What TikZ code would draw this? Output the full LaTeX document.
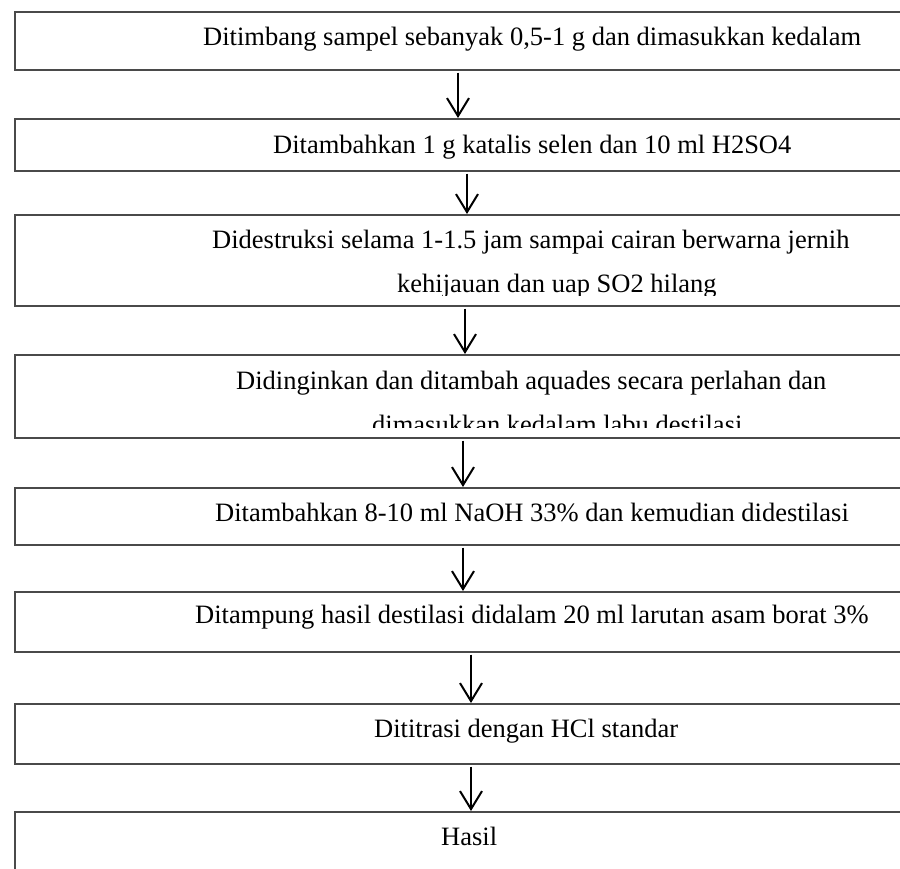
\documentclass[tikz,border=0pt]{standalone}
\usepackage{fontspec}
\setmainfont{Liberation Serif}
\usetikzlibrary{arrows.meta}
\definecolor{frame}{HTML}{4A4A4A}
\tikzset{
  stepbox/.style={draw=frame, line width=1.6pt, inner sep=0pt, anchor=north west,
                  minimum width=900pt},
  txt/.style={anchor=base west, inner sep=0pt, font=\fontsize{26.5}{32}\selectfont},
  arr/.style={draw=black, line width=2pt,
              -{Straight Barb[length=18pt, width=22pt, line width=2pt]}}
}
\begin{document}
\begin{tikzpicture}[x=1pt, y=-1pt]
\useasboundingbox (0,0) rectangle (900,868);

% process boxes (they run off the right edge)
\node[stepbox, minimum height=58pt] (b1) at (14,11) {};
\node[stepbox, minimum height=52pt] (b2) at (14,118) {};
\node[stepbox, minimum height=91pt] (b3) at (14,214) {};
\node[stepbox, minimum height=83pt] (b4) at (14,354) {};
\node[stepbox, minimum height=57pt] (b5) at (14,487) {};
\node[stepbox, minimum height=60pt] (b6) at (14,591) {};
\node[stepbox, minimum height=60pt] (b7) at (14,703) {};
\node[stepbox, minimum height=80pt] (b8) at (14,811) {};

% labels
\node[txt] (t1) at (203,45) {Ditimbang sampel sebanyak 0,5-1 g dan dimasukkan kedalam};
\node[txt] (t2) at (273,153) {Ditambahkan 1 g katalis selen dan 10 ml H2SO4};
\node[txt] (t3) at (212,248) {Didestruksi selama 1-1.5 jam sampai cairan berwarna jernih};
\begin{scope}
  \clip (14,214) rectangle (900,295);
  \node[txt] (t3b) at (397,292) {kehijauan dan uap SO2 hilang};
\end{scope}
\node[txt] (t4) at (236,389) {Didinginkan dan ditambah aquades secara perlahan dan};
\begin{scope}
  \clip (14,354) rectangle (900,427);
  \node[txt] (t4b) at (372,433) {dimasukkan kedalam labu destilasi};
\end{scope}
\node[txt] (t5) at (215,521) {Ditambahkan 8-10 ml NaOH 33\% dan kemudian didestilasi};
\node[txt] (t6) at (195,623) {Ditampung hasil destilasi didalam 20 ml larutan asam borat 3\%};
\node[txt] (t7) at (374,737) {Dititrasi dengan HCl standar};
\node[txt] (t8) at (441,845) {Hasil};

% arrow columns
\coordinate (c1) at (458,0);
\coordinate (c2) at (467,0);
\coordinate (c3) at (465,0);
\coordinate (c4) at (463,0);
\coordinate (c5) at (463,0);
\coordinate (c6) at (471,0);
\coordinate (c7) at (471,0);

\draw[arr] ([yshift=-2pt]b1.south -| c1) -- (b2.north -| c1);
\draw[arr] ([yshift=-2pt]b2.south -| c2) -- (b3.north -| c2);
\draw[arr] ([yshift=-2pt]b3.south -| c3) -- (b4.north -| c3);
\draw[arr] ([yshift=-2pt]b4.south -| c4) -- (b5.north -| c4);
\draw[arr] ([yshift=-2pt]b5.south -| c5) -- (b6.north -| c5);
\draw[arr] ([yshift=-2pt]b6.south -| c6) -- (b7.north -| c6);
\draw[arr] ([yshift=-2pt]b7.south -| c7) -- (b8.north -| c7);
\end{tikzpicture}
\end{document}
